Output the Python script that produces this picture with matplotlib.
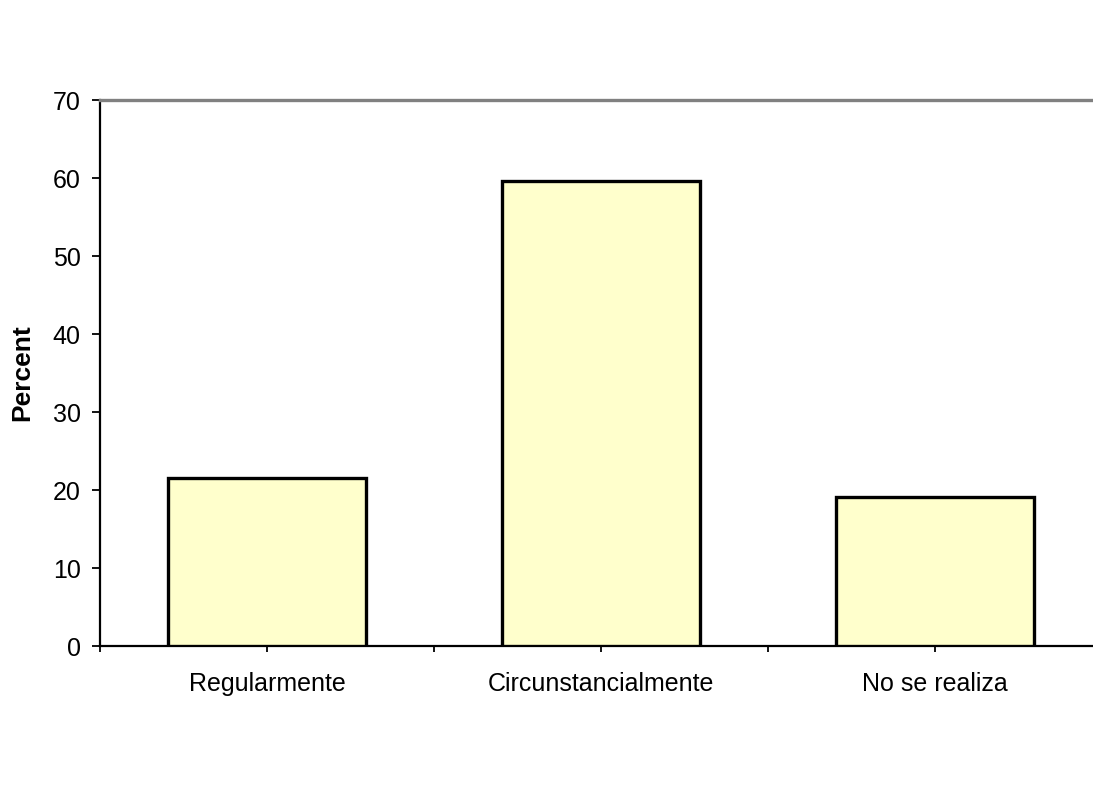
import matplotlib
matplotlib.use("Agg")
import matplotlib.pyplot as plt

categories = ["Regularmente", "Circunstancialmente", "No se realiza"]
percent = [21.6, 59.6, 19.1]
y_ticks = [0, 10, 20, 30, 40, 50, 60, 70]

plt.rcParams["font.family"] = ["Liberation Sans", "DejaVu Sans"]

fig = plt.figure(figsize=(10.93, 7.99), dpi=100)
# axis runs slightly past the right edge of the canvas
ax = fig.add_axes([100 / 1093, 153 / 799, 1002 / 1093, 546 / 799])

x = list(range(len(categories)))
ax.bar(x, percent, width=0.59, color="#ffffcc", edgecolor="black", linewidth=2.4, zorder=3)

ax.set_xlim(-0.5, 2.5)
ax.set_ylim(0, 70)
ax.set_yticks(y_ticks)
ax.set_xticks(x)
ax.set_xticklabels(categories)
ax.set_xticks([-0.5, 0.5, 1.5], minor=True)

ax.tick_params(axis="y", length=6, width=1.3, pad=8, labelsize=18)
ax.tick_params(axis="x", which="major", length=4.5, width=1.3, pad=14, labelsize=18)
ax.tick_params(axis="x", which="minor", length=4.5, width=1.3)

ax.set_ylabel("Percent", fontsize=19, fontweight="bold", labelpad=13)

ax.spines["right"].set_visible(False)
ax.spines["top"].set_color("#808080")
ax.spines["top"].set_linewidth(2.4)
ax.spines["left"].set_linewidth(1.6)
ax.spines["bottom"].set_linewidth(1.6)

fig.savefig("out.png", dpi=100)
